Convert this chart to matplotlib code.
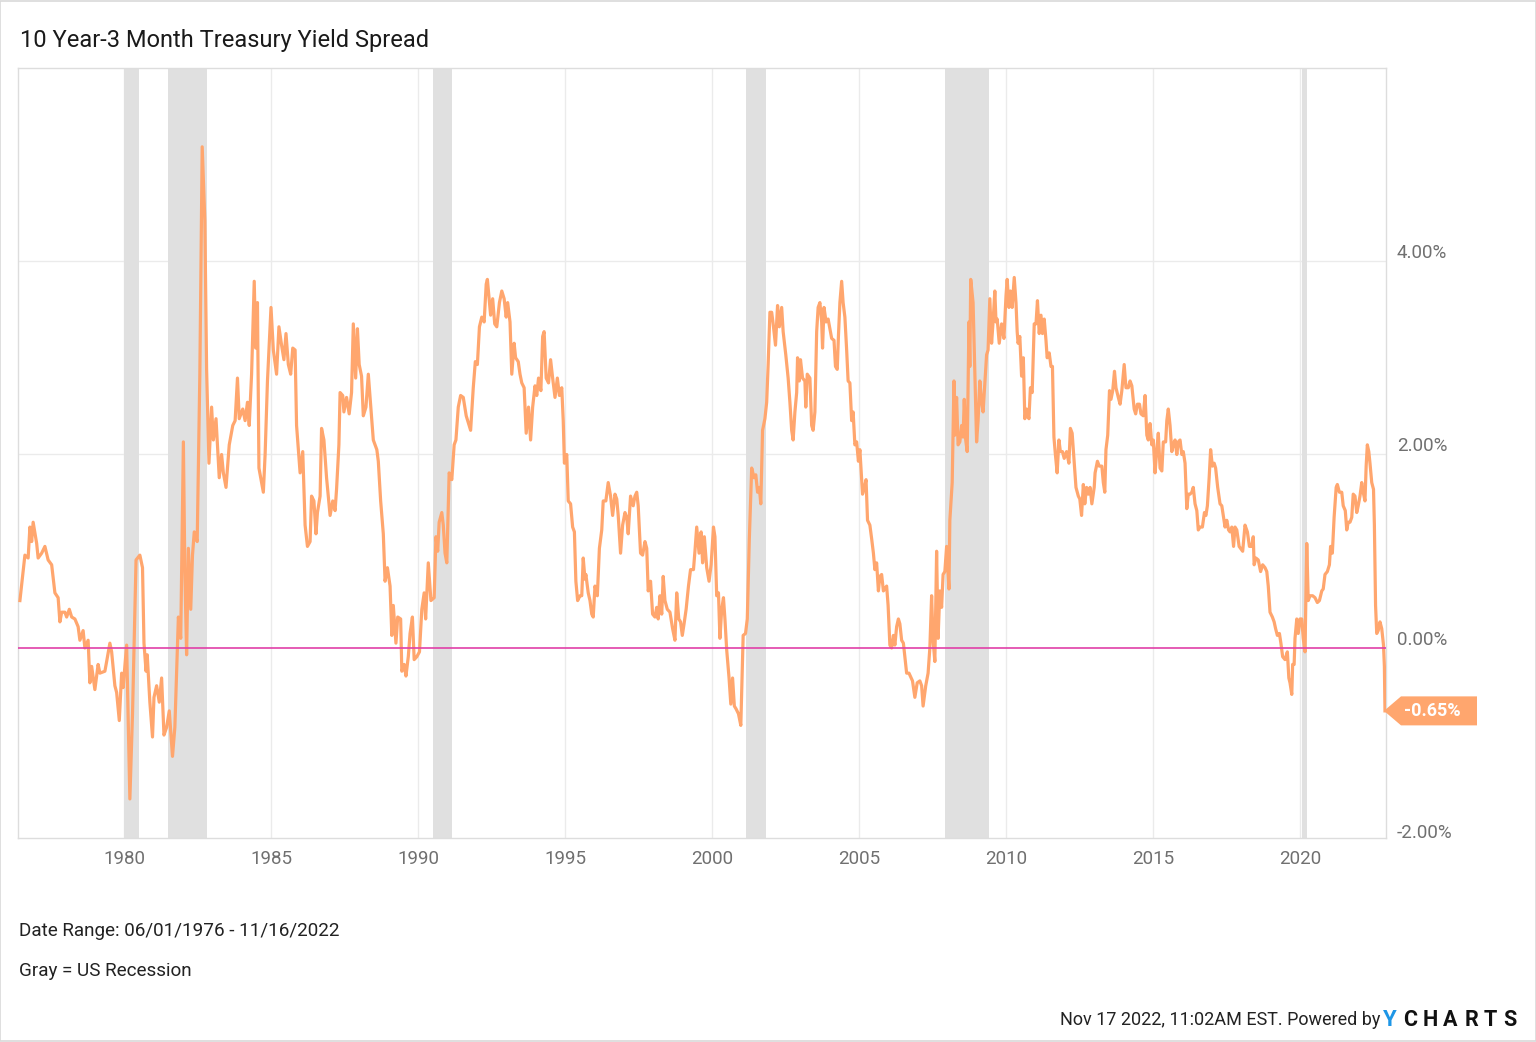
import matplotlib
matplotlib.use("Agg")
import matplotlib.pyplot as plt
from matplotlib.patches import Polygon, Rectangle
from matplotlib import transforms

plt.rcParams['font.family'] = ['Roboto', 'DejaVu Sans']

# ---------------- data (decimal years, spread in %) ----------------
years = [
    1976.46, 1976.57, 1976.63, 1976.74, 1976.80, 1976.86, 1976.91, 1977.03, 1977.08, 1977.20,
    1977.31, 1977.42, 1977.54, 1977.65, 1977.76, 1977.82, 1977.88, 1977.99, 1978.05, 1978.14,
    1978.22, 1978.33, 1978.44, 1978.50, 1978.61, 1978.67, 1978.78, 1978.84, 1978.90, 1979.01,
    1979.12, 1979.18, 1979.35, 1979.41, 1979.52, 1979.58, 1979.69, 1979.75, 1979.84, 1979.92,
    1979.97, 1980.09, 1980.20, 1980.29, 1980.41, 1980.54, 1980.63, 1980.68, 1980.75, 1980.79,
    1980.88, 1980.97, 1981.02, 1981.11, 1981.20, 1981.28, 1981.36, 1981.45, 1981.54, 1981.65,
    1981.73, 1981.85, 1981.93, 1982.02, 1982.07, 1982.13, 1982.19, 1982.27, 1982.33, 1982.39,
    1982.49, 1982.58, 1982.66,
    1982.75, 1982.81, 1982.89, 1982.98, 1983.04, 1983.13, 1983.24, 1983.32, 1983.38, 1983.47,
    1983.58, 1983.70, 1983.78, 1983.86, 1983.92, 1984.04, 1984.12, 1984.20, 1984.26, 1984.34,
    1984.43, 1984.48, 1984.54, 1984.59, 1984.65, 1984.74, 1984.80, 1984.88, 1985.00, 1985.08,
    1985.19, 1985.27, 1985.36, 1985.44, 1985.51, 1985.59, 1985.67, 1985.74, 1985.82, 1985.87,
    1985.99, 1986.08, 1986.16, 1986.24, 1986.33, 1986.38, 1986.46, 1986.53, 1986.58, 1986.67,
    1986.72, 1986.80, 1986.89, 1987.01, 1987.10, 1987.18, 1987.23, 1987.31, 1987.35, 1987.44,
    1987.48, 1987.57, 1987.66, 1987.74, 1987.80, 1987.88, 1987.94, 1988.00, 1988.08, 1988.14,
    1988.23, 1988.31,
    1988.48, 1988.60, 1988.65, 1988.73, 1988.82, 1988.88, 1988.96, 1989.05, 1989.11, 1989.16,
    1989.25, 1989.31, 1989.41, 1989.45, 1989.53, 1989.59, 1989.67, 1989.73, 1989.81, 1989.87,
    1989.96, 1990.05, 1990.13, 1990.21, 1990.26, 1990.35, 1990.44, 1990.55, 1990.61, 1990.67,
    1990.72, 1990.81, 1990.86, 1990.92, 1990.98, 1991.06, 1991.15, 1991.23, 1991.29, 1991.37,
    1991.45, 1991.54, 1991.64, 1991.72, 1991.79, 1991.88, 1991.95, 1992.02, 1992.09, 1992.17,
    1992.25, 1992.32, 1992.36, 1992.42, 1992.47, 1992.54, 1992.61, 1992.68, 1992.77, 1992.85,
    1992.93, 1993.00, 1993.05, 1993.13, 1993.19, 1993.27, 1993.32, 1993.41, 1993.47, 1993.53,
    1993.61, 1993.68, 1993.76, 1993.83, 1993.90, 1993.98, 1994.04, 1994.10, 1994.18, 1994.24,
    1994.29, 1994.36, 1994.44,
    1994.51, 1994.58, 1994.66, 1994.74, 1994.81, 1994.89, 1994.94, 1994.98, 1995.06, 1995.11,
    1995.19, 1995.26, 1995.32, 1995.37, 1995.43, 1995.51, 1995.57, 1995.62, 1995.68, 1995.71,
    1995.79, 1995.85, 1995.91, 1995.96, 1996.02, 1996.10, 1996.17, 1996.25, 1996.30, 1996.39,
    1996.47, 1996.55, 1996.62, 1996.70, 1996.76, 1996.81, 1996.89, 1996.96, 1997.04, 1997.10,
    1997.15, 1997.23, 1997.32, 1997.38, 1997.44, 1997.49, 1997.57, 1997.64, 1997.72, 1997.78,
    1997.83, 1997.91, 1997.98, 1998.06, 1998.12, 1998.17, 1998.23, 1998.29, 1998.34, 1998.40,
    1998.48, 1998.57, 1998.66, 1998.74, 1998.80, 1998.87, 1998.93, 1998.99, 1999.05, 1999.12,
    1999.20, 1999.27, 1999.37, 1999.42, 1999.48, 1999.56, 1999.63, 1999.68, 1999.74, 1999.82,
    1999.90, 1999.97, 2000.05, 2000.10, 2000.16, 2000.22, 2000.27, 2000.33, 2000.39, 2000.44,
    2000.50, 2000.58, 2000.64, 2000.70, 2000.76, 2000.82, 2000.90, 2000.98,
    2001.06, 2001.14, 2001.20, 2001.27, 2001.35, 2001.43, 2001.49, 2001.55, 2001.61, 2001.66,
    2001.72, 2001.80, 2001.86, 2001.91, 2001.97, 2002.03, 2002.08, 2002.16, 2002.23, 2002.29,
    2002.37, 2002.42, 2002.51, 2002.59, 2002.65, 2002.71, 2002.76, 2002.82, 2002.88, 2002.91,
    2002.97, 2003.01, 2003.08, 2003.16, 2003.19, 2003.24, 2003.33, 2003.39, 2003.44, 2003.50,
    2003.56, 2003.61, 2003.67, 2003.73, 2003.76, 2003.81, 2003.88, 2003.95, 2004.01, 2004.07,
    2004.15, 2004.20, 2004.26, 2004.30, 2004.35, 2004.41, 2004.46, 2004.52, 2004.58, 2004.63,
    2004.69, 2004.75, 2004.80, 2004.86, 2004.92, 2004.98, 2005.03, 2005.12, 2005.17, 2005.24,
    2005.29, 2005.37, 2005.43, 2005.49, 2005.54, 2005.60, 2005.66, 2005.71, 2005.77, 2005.83,
    2005.88, 2005.94, 2005.99, 2006.05, 2006.11, 2006.17, 2006.22, 2006.28, 2006.34, 2006.39,
    2006.45, 2006.51, 2006.56, 2006.62, 2006.70,
    2006.82, 2006.90, 2006.98, 2007.07, 2007.13, 2007.18, 2007.27, 2007.35, 2007.41, 2007.47,
    2007.52, 2007.58, 2007.64, 2007.69, 2007.75, 2007.81, 2007.86, 2007.92, 2007.98, 2008.06,
    2008.09, 2008.17, 2008.23, 2008.26, 2008.32, 2008.37, 2008.43, 2008.49, 2008.54, 2008.58,
    2008.63, 2008.68, 2008.74, 2008.77, 2008.80, 2008.88, 2008.94, 2009.00, 2009.05, 2009.11,
    2009.17, 2009.22, 2009.28, 2009.34, 2009.39, 2009.45, 2009.51, 2009.56, 2009.62, 2009.66,
    2009.70, 2009.77, 2009.85, 2009.93, 2010.00, 2010.04, 2010.10, 2010.15, 2010.21, 2010.28,
    2010.34, 2010.38, 2010.41, 2010.47, 2010.53, 2010.59, 2010.64, 2010.70, 2010.78, 2010.83,
    2010.89, 2010.96, 2011.02, 2011.07, 2011.13, 2011.19, 2011.24, 2011.30, 2011.36, 2011.40,
    2011.47, 2011.53, 2011.58, 2011.63, 2011.68, 2011.74, 2011.80, 2011.85, 2011.92, 2011.98,
    2012.06, 2012.14, 2012.19, 2012.25, 2012.32, 2012.38, 2012.46, 2012.51, 2012.57, 2012.63,
    2012.68, 2012.74, 2012.80,
    2012.86, 2012.92, 2013.00, 2013.03, 2013.11, 2013.17, 2013.26, 2013.31, 2013.36, 2013.40,
    2013.46, 2013.52, 2013.57, 2013.63, 2013.69, 2013.74, 2013.82, 2013.88, 2013.94, 2014.02,
    2014.08, 2014.16, 2014.22, 2014.28, 2014.36, 2014.41, 2014.47, 2014.54, 2014.59, 2014.67,
    2014.73, 2014.79, 2014.84, 2014.90, 2014.96, 2015.01, 2015.07, 2015.13, 2015.18, 2015.24,
    2015.30, 2015.35, 2015.43, 2015.47, 2015.52, 2015.58, 2015.64, 2015.69, 2015.75, 2015.81,
    2015.86, 2015.92, 2015.98, 2016.03, 2016.09, 2016.15, 2016.20, 2016.26, 2016.32, 2016.37,
    2016.43, 2016.49, 2016.54, 2016.60, 2016.68, 2016.75, 2016.80, 2016.85, 2016.91, 2016.96,
    2017.02, 2017.08, 2017.13, 2017.20, 2017.28, 2017.34, 2017.39, 2017.45, 2017.51, 2017.57,
    2017.62, 2017.68, 2017.74, 2017.79, 2017.85, 2017.93,
    2018.05, 2018.13, 2018.21, 2018.28, 2018.36, 2018.41, 2018.44, 2018.50, 2018.58, 2018.66,
    2018.73, 2018.81, 2018.87, 2018.92, 2018.98, 2019.06, 2019.12, 2019.17, 2019.23, 2019.30,
    2019.35, 2019.41, 2019.49, 2019.57, 2019.62, 2019.66, 2019.72, 2019.75, 2019.80, 2019.83,
    2019.89, 2019.94, 2020.00, 2020.06, 2020.11, 2020.17, 2020.23, 2020.28, 2020.34, 2020.43,
    2020.51, 2020.59, 2020.66, 2020.74, 2020.79, 2020.85, 2020.93, 2021.00, 2021.04, 2021.10,
    2021.16, 2021.23, 2021.27, 2021.34, 2021.42, 2021.47, 2021.54, 2021.59, 2021.64, 2021.70,
    2021.76, 2021.81, 2021.87, 2021.93, 2021.98, 2022.04, 2022.10, 2022.15, 2022.21, 2022.25,
    2022.29, 2022.34, 2022.38, 2022.44, 2022.50, 2022.53, 2022.57, 2022.61, 2022.66, 2022.72,
    2022.78, 2022.84, 2022.87, 2022.89,
]

spread = [
    0.49, 0.79, 0.96, 0.93, 1.25, 1.10, 1.30, 1.08, 0.93, 0.98,
    1.05, 0.91, 0.86, 0.57, 0.52, 0.27, 0.37, 0.37, 0.32, 0.40,
    0.32, 0.30, 0.22, 0.08, 0.18, 0.00, 0.08, -0.36, -0.19, -0.43,
    -0.17, -0.26, -0.24, -0.14, 0.05, -0.04, -0.39, -0.46, -0.75, -0.26,
    -0.41, 0.03, -1.56, -0.68, 0.91, 0.96, 0.83, 0.05, -0.24, -0.07,
    -0.56, -0.92, -0.51, -0.39, -0.56, -0.31, -0.90, -0.82, -0.65, -1.12,
    -0.82, 0.32, 0.10, 2.13, 0.79, -0.07, 1.03, 0.40, 0.96, 1.20,
    1.10, 2.83, 5.18,
    4.42, 2.88, 1.91, 2.49, 2.15, 2.37, 1.76, 2.00, 1.81, 1.66,
    2.10, 2.30, 2.35, 2.79, 2.37, 2.47, 2.35, 2.54, 2.30, 2.83,
    3.79, 3.10, 3.57, 1.86, 1.76, 1.61, 2.00, 2.76, 3.52, 3.08,
    2.83, 3.32, 3.13, 2.98, 3.25, 2.93, 2.83, 3.10, 3.08, 2.30,
    1.81, 2.03, 1.27, 1.05, 1.10, 1.57, 1.52, 1.18, 1.40, 1.57,
    2.27, 2.15, 1.76, 1.37, 1.52, 1.42, 1.64, 2.10, 2.64, 2.61,
    2.44, 2.59, 2.42, 2.64, 3.35, 2.79, 3.30, 2.93, 2.81, 2.40,
    2.49, 2.83,
    2.15, 2.05, 1.93, 1.52, 1.18, 0.69, 0.83, 0.64, 0.13, 0.44,
    0.05, 0.32, 0.30, -0.24, -0.17, -0.29, -0.09, 0.15, 0.32, -0.12,
    -0.09, -0.04, 0.40, 0.57, 0.30, 0.88, 0.49, 0.52, 1.15, 1.00,
    1.30, 1.40, 1.27, 0.98, 0.88, 1.81, 1.74, 2.10, 2.15, 2.49,
    2.61, 2.59, 2.40, 2.32, 2.25, 2.69, 2.96, 2.93, 3.32, 3.42,
    3.37, 3.76, 3.81, 3.61, 3.44, 3.61, 3.35, 3.32, 3.57, 3.69,
    3.61, 3.42, 3.57, 3.37, 2.83, 3.15, 3.00, 2.96, 2.83, 2.74,
    2.69, 2.22, 2.49, 2.15, 2.49, 2.71, 2.61, 2.79, 2.66, 3.22,
    3.27, 2.79, 2.74,
    2.98, 2.79, 2.59, 2.79, 2.61, 2.69, 2.35, 1.91, 2.00, 1.52,
    1.49, 1.25, 1.20, 0.69, 0.49, 0.54, 0.54, 0.93, 0.71, 0.76,
    0.57, 0.49, 0.35, 0.32, 0.64, 0.54, 1.03, 1.22, 1.52, 1.52,
    1.71, 1.57, 1.37, 1.59, 1.54, 1.37, 0.98, 1.27, 1.40, 1.35,
    1.18, 1.57, 1.47, 1.57, 1.61, 1.47, 0.98, 0.96, 1.10, 1.03,
    0.59, 0.69, 0.35, 0.32, 0.42, 0.30, 0.54, 0.35, 0.74, 0.49,
    0.40, 0.37, 0.20, 0.08, 0.57, 0.30, 0.27, 0.13, 0.25, 0.40,
    0.64, 0.81, 0.81, 1.00, 1.25, 0.98, 1.20, 0.88, 1.15, 0.83,
    0.69, 0.86, 1.25, 1.15, 0.54, 0.57, 0.10, 0.40, 0.52, 0.30,
    -0.02, -0.31, -0.58, -0.31, -0.60, -0.63, -0.68, -0.80,
    0.13, 0.15, 0.30, 1.13, 1.86, 1.76, 1.79, 1.61, 1.66, 1.49,
    2.25, 2.37, 2.54, 2.93, 3.47, 3.47, 3.35, 3.13, 3.54, 3.32,
    3.52, 3.27, 3.03, 2.79, 2.54, 2.25, 2.15, 2.44, 2.64, 3.00,
    2.76, 2.98, 2.79, 2.76, 2.49, 2.83, 2.79, 2.30, 2.25, 2.44,
    3.27, 3.52, 3.57, 3.37, 3.10, 3.52, 3.37, 3.40, 3.30, 3.20,
    3.18, 2.91, 2.88, 3.22, 3.57, 3.79, 3.57, 3.42, 3.08, 2.76,
    2.74, 2.35, 2.44, 2.10, 2.13, 1.93, 2.05, 1.59, 1.64, 1.74,
    1.32, 1.27, 1.13, 0.98, 0.81, 0.88, 0.59, 0.74, 0.76, 0.59,
    0.61, 0.64, 0.44, 0.03, 0.00, 0.13, 0.03, 0.22, 0.30, 0.25,
    0.08, 0.05, -0.09, -0.26, -0.26,
    -0.34, -0.51, -0.36, -0.34, -0.39, -0.60, -0.39, -0.26, 0.00, 0.54,
    0.08, -0.14, 1.00, 0.10, 0.59, 0.42, 0.76, 0.79, 1.05, 0.61,
    1.32, 1.71, 2.76, 2.20, 2.59, 2.10, 2.13, 2.30, 2.18, 2.57,
    2.15, 2.03, 3.37, 2.91, 3.81, 3.57, 2.83, 2.13, 2.35, 2.76,
    2.54, 2.44, 2.74, 3.03, 3.08, 3.61, 3.15, 3.37, 3.69, 3.37,
    3.40, 3.15, 3.35, 3.20, 3.64, 3.81, 3.52, 3.69, 3.52, 3.83,
    3.57, 3.27, 3.15, 3.22, 2.81, 3.00, 2.37, 2.47, 2.37, 2.69,
    2.64, 3.35, 3.35, 3.59, 3.25, 3.44, 3.25, 3.40, 3.18, 3.00,
    3.05, 2.91, 2.91, 2.18, 2.00, 1.81, 2.15, 2.03, 2.03, 1.96,
    2.03, 1.91, 2.27, 2.22, 1.91, 1.66, 1.57, 1.54, 1.37, 1.69,
    1.49, 1.66, 1.59,
    1.66, 1.49, 1.66, 1.81, 1.93, 1.88, 1.88, 1.71, 1.61, 2.05,
    2.20, 2.66, 2.57, 2.66, 2.86, 2.69, 2.59, 2.52, 2.66, 2.93,
    2.69, 2.69, 2.76, 2.71, 2.47, 2.42, 2.52, 2.52, 2.42, 2.40,
    2.61, 2.20, 2.15, 2.32, 2.10, 2.15, 1.81, 2.05, 2.22, 1.86,
    1.83, 2.13, 2.13, 2.35, 2.47, 2.30, 2.03, 2.10, 2.15, 2.00,
    2.13, 2.15, 2.00, 2.03, 1.91, 1.44, 1.59, 1.59, 1.61, 1.66,
    1.49, 1.42, 1.22, 1.25, 1.25, 1.40, 1.37, 1.47, 1.76, 2.05,
    1.88, 1.91, 1.86, 1.66, 1.49, 1.47, 1.37, 1.25, 1.32, 1.22,
    1.20, 1.25, 1.05, 1.25, 1.22, 1.05,
    1.00, 1.27, 1.20, 1.05, 1.05, 1.15, 0.86, 0.93, 0.91, 0.79,
    0.86, 0.83, 0.79, 0.64, 0.37, 0.32, 0.27, 0.20, 0.13, 0.15,
    0.05, -0.09, -0.12, -0.04, -0.31, -0.36, -0.48, -0.17, -0.17, 0.10,
    0.30, 0.15, 0.30, 0.30, 0.10, -0.04, 1.08, 0.49, 0.54, 0.54,
    0.52, 0.47, 0.49, 0.59, 0.61, 0.76, 0.79, 0.86, 1.05, 0.98,
    1.35, 1.66, 1.69, 1.61, 1.61, 1.47, 1.42, 1.22, 1.30, 1.30,
    1.35, 1.59, 1.57, 1.40, 1.47, 1.57, 1.71, 1.61, 1.52, 1.88,
    2.10, 2.03, 1.91, 1.71, 1.64, 1.27, 0.44, 0.15, 0.18, 0.27,
    0.20, 0.03, -0.19, -0.65,
]

recession_start = [1980.00, 1981.50, 1990.50, 2001.17, 2007.92, 2020.08]
recession_end = [1980.51, 1982.82, 1991.16, 2001.84, 2009.42, 2020.24]

x_tick_years = [1980, 1985, 1990, 1995, 2000, 2005, 2010, 2015, 2020]
y_tick_values = [-2, 0, 2, 4]
y_tick_labels = ["-2.00%", "0.00%", "2.00%", "4.00%"]
last_value_label = "-0.65%"

# ---------------- figure ----------------
W, H = 1536, 1042
fig = plt.figure(figsize=(W / 100, H / 100), dpi=100)
fig.patch.set_facecolor('white')

def fx(px):
    return px / W

def fy(py):
    return 1 - py / H

# outer frame
fig.patches.append(Rectangle((0.0003, 0.0005), 0.9994, 0.999, transform=fig.transFigure,
                             fill=False, edgecolor='#d9d9d9', linewidth=1.2))

ax_l, ax_r, ax_t, ax_b = 18, 1386, 68, 838
ax = fig.add_axes([fx(ax_l), fy(ax_b), fx(ax_r - ax_l), (ax_b - ax_t) / H])

x_min, x_max = 1976.395, 2022.925
y_min, y_max = -1.964, 5.995
ax.set_xlim(x_min, x_max)
ax.set_ylim(y_min, y_max)

ORANGE = '#ffa66e'
GRID = '#ebebeb'

for s, e in zip(recession_start, recession_end):
    ax.axvspan(s, e, color='#e0e0e0', linewidth=0, zorder=1)

for yr in x_tick_years:
    ax.axvline(yr, color=GRID, linewidth=1, zorder=0.5)
for v in y_tick_values:
    if v != 0:
        ax.axhline(v, color=GRID, linewidth=1, zorder=0.5)

ax.plot(years, spread, color=ORANGE, linewidth=2.3, zorder=3, solid_joinstyle='round')
ax.axhline(0, color='#e040a8', linewidth=1.2, zorder=4)

for sp in ax.spines.values():
    sp.set_color('#dddddd')
    sp.set_linewidth(1)

ax.set_xticks(x_tick_years)
ax.set_xticklabels([str(y) for y in x_tick_years])
ax.tick_params(axis='x', length=0, pad=9, labelsize=13.5, labelcolor='#707070')
ax.set_yticks([])

# right-hand y labels (placed slightly above their gridlines)
lab_tr = transforms.offset_copy(
    transforms.blended_transform_factory(ax.transAxes, ax.transData),
    fig=fig, x=11, y=8, units='dots')
for v, t in zip(y_tick_values, y_tick_labels):
    ax.text(1.0, v, t, transform=lab_tr, ha='left', va='center',
            fontsize=13.5, color='#707070', clip_on=False)

# last-value badge (arrow tip at the last data point)
tip_disp = ax.transData.transform((x_max, spread[-1]))
tip_y = H - tip_disp[1]
tip_x = ax_r - 2
bh = 14.5
poly = [(tip_x, tip_y), (tip_x + 17, tip_y - bh), (tip_x + 93, tip_y - bh),
        (tip_x + 93, tip_y + bh), (tip_x + 17, tip_y + bh)]
fig.patches.append(Polygon([(fx(px), fy(py)) for px, py in poly], closed=True,
                           transform=fig.transFigure, facecolor=ORANGE,
                           edgecolor='none', zorder=5))
fig.text(fx(tip_x + 48), fy(tip_y), last_value_label, ha='center', va='center',
         color='white', fontsize=13, fontweight='bold', zorder=10)

# texts
fig.text(fx(20), fy(40), "10 Year-3 Month Treasury Yield Spread", ha='left', va='center',
         fontsize=17, color='#1a1a1a')
fig.text(fx(19), fy(931), "Date Range: 06/01/1976 - 11/16/2022", ha='left', va='center',
         fontsize=13.6, color='#222222')
fig.text(fx(19), fy(971), "Gray = US Recession", ha='left', va='center',
         fontsize=13.6, color='#222222')
fig.text(fx(1380), fy(1020), "Nov 17 2022, 11:02AM EST. Powered by", ha='right', va='center',
         fontsize=13.0, color='#222222')

# YCHARTS logo text
fig.text(fx(1390), fy(1020), "Y", ha='center', va='center', fontsize=16,
         fontweight='bold', color='#1e96e6')
logo_letters = ["C", "H", "A", "R", "T", "S"]
logo_x = [1410, 1430, 1450.5, 1471.5, 1490, 1509.5]
for ch, px in zip(logo_letters, logo_x):
    fig.text(fx(px), fy(1020), ch, ha='center', va='center', fontsize=15.5,
             fontweight='bold', color='#111111')

fig.savefig('out.png', dpi=100, facecolor='white')
